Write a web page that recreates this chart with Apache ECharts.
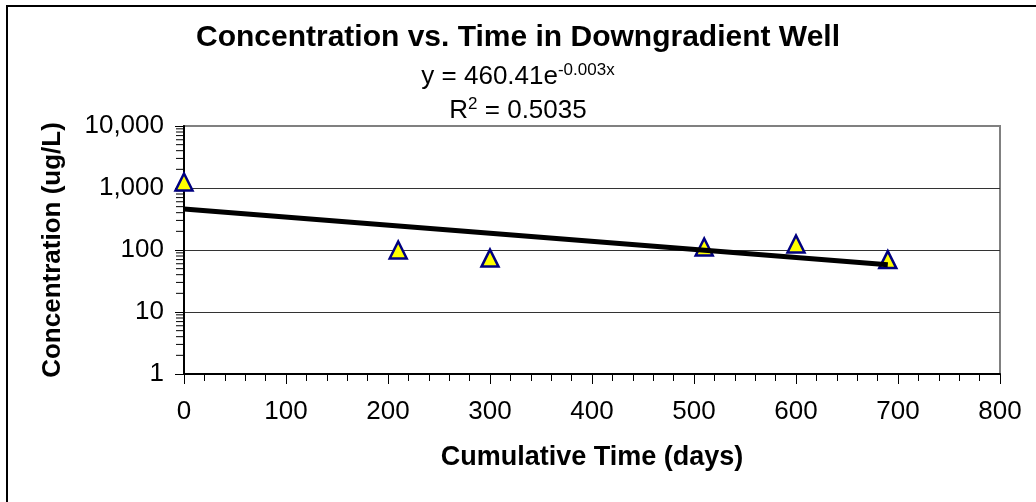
<!DOCTYPE html>
<html>
<head>
<meta charset="utf-8">
<script src="https://cdn.jsdelivr.net/npm/echarts@6/dist/echarts.min.js"></script>
<style>
  html, body { margin: 0; padding: 0; background: #fff; }
  #chart { width: 1036px; height: 502px; }
</style>
</head>
<body>
<div id="chart"></div>
<script>
// measured points (days, ug/L)
const timeDays = [0, 210, 300, 510, 600, 690];
const concentration = [1250, 100, 74, 112, 125, 70];

// exponential trend line end points
const trendDays = [0, 690];
const trendConc = [460, 58];

const xTicks = [0, 100, 200, 300, 400, 500, 600, 700, 800];
const yTicks = [1, 10, 100, 1000, 10000];
const minorMultipliers = [2, 3, 4, 5, 6, 7, 8, 9];

const FONT = '"Liberation Sans", Arial, sans-serif';

const chart = echarts.init(document.getElementById('chart'));

// log minor ticks for the y axis (2..9 in each decade)
const minorTickValues = [];
for (let d = 0; d < yTicks.length - 1; d++) {
  minorMultipliers.forEach(m => minorTickValues.push([0, yTicks[d] * m]));
}

const option = {
  animation: false,
  backgroundColor: '#fff',
  textStyle: { fontFamily: FONT },
  title: [
    {
      text: 'Concentration vs. Time in Downgradient Well',
      left: 'center',
      top: 17,
      textStyle: { fontFamily: FONT, fontSize: 30, fontWeight: 'bold', color: '#000', lineHeight: 32 }
    },
    {
      text: 'y = 460.41e{sup|-0.003x}',
      left: 'center',
      top: 57,
      textStyle: {
        fontFamily: FONT, fontSize: 26, fontWeight: 'normal', color: '#000', lineHeight: 30,
        rich: { sup: { fontFamily: FONT, fontSize: 17, lineHeight: 17, verticalAlign: 'top', color: '#000' } }
      }
    },
    {
      text: 'R{sup|2} = 0.5035',
      left: 'center',
      top: 91,
      textStyle: {
        fontFamily: FONT, fontSize: 26, fontWeight: 'normal', color: '#000', lineHeight: 30,
        rich: { sup: { fontFamily: FONT, fontSize: 17, lineHeight: 17, verticalAlign: 'top', color: '#000' } }
      }
    }
  ],
  graphic: [
    {
      type: 'rect',
      shape: { x: 7, y: 6, width: 1100, height: 600 },
      style: { fill: 'none', stroke: '#000', lineWidth: 2 },
      silent: true
    }
  ],
  grid: {
    left: 184,
    right: 36,
    top: 126,
    bottom: 128,
    show: true,
    borderColor: '#808080',
    borderWidth: 2,
    backgroundColor: '#fff'
  },
  xAxis: {
    type: 'value',
    min: xTicks[0],
    max: xTicks[xTicks.length - 1],
    interval: 100,
    name: 'Cumulative Time (days)',
    nameLocation: 'middle',
    nameGap: 70,
    nameTextStyle: { fontFamily: FONT, fontSize: 27, fontWeight: 'bold', color: '#000' },
    axisLine: { lineStyle: { color: '#000', width: 2 } },
    axisTick: { show: true, length: 10, lineStyle: { color: '#000', width: 1 } },
    minorTick: { show: true, splitNumber: 5, length: 7, lineStyle: { color: '#000', width: 1 } },
    splitLine: { show: false },
    axisLabel: { fontFamily: FONT, fontSize: 26, color: '#000', margin: 25 }
  },
  yAxis: {
    type: 'log',
    logBase: 10,
    min: yTicks[0],
    max: yTicks[yTicks.length - 1],
    name: 'Concentration (ug/L)',
    nameLocation: 'middle',
    nameGap: 118,
    nameTextStyle: { fontFamily: FONT, fontSize: 26, fontWeight: 'bold', color: '#000' },
    axisLine: { lineStyle: { color: '#000', width: 2 } },
    axisTick: { show: true, length: 9, lineStyle: { color: '#000', width: 1 } },
    splitLine: { show: true, lineStyle: { color: ['#000', '#333', '#333', '#333', '#808080'], width: 1 } },
    axisLabel: {
      fontFamily: FONT, fontSize: 26, color: '#000', margin: 20,
      formatter: v => Number(v).toLocaleString('en-US')
    }
  },
  series: [
    {
      name: 'minor ticks',
      type: 'custom',
      silent: true,
      z: 3,
      data: minorTickValues,
      renderItem: (params, api) => {
        const p = api.coord([api.value(0), api.value(1)]);
        return {
          type: 'line',
          shape: { x1: p[0] - 8, y1: p[1], x2: p[0], y2: p[1] },
          style: { stroke: '#000', lineWidth: 1 }
        };
      }
    },
    {
      name: 'Concentration',
      type: 'scatter',
      symbol: 'triangle',
      symbolSize: 17,
      z: 4,
      itemStyle: { color: '#ffff00', borderColor: '#000080', borderWidth: 2.5, opacity: 1 },
      data: timeDays.map((t, i) => [t, concentration[i]])
    },
    {
      name: 'Expon. trend',
      type: 'line',
      symbol: 'none',
      z: 5,
      lineStyle: { color: '#000', width: 5 },
      data: trendDays.map((t, i) => [t, trendConc[i]])
    }
  ]
};

chart.setOption(option);
</script>
</body>
</html>
